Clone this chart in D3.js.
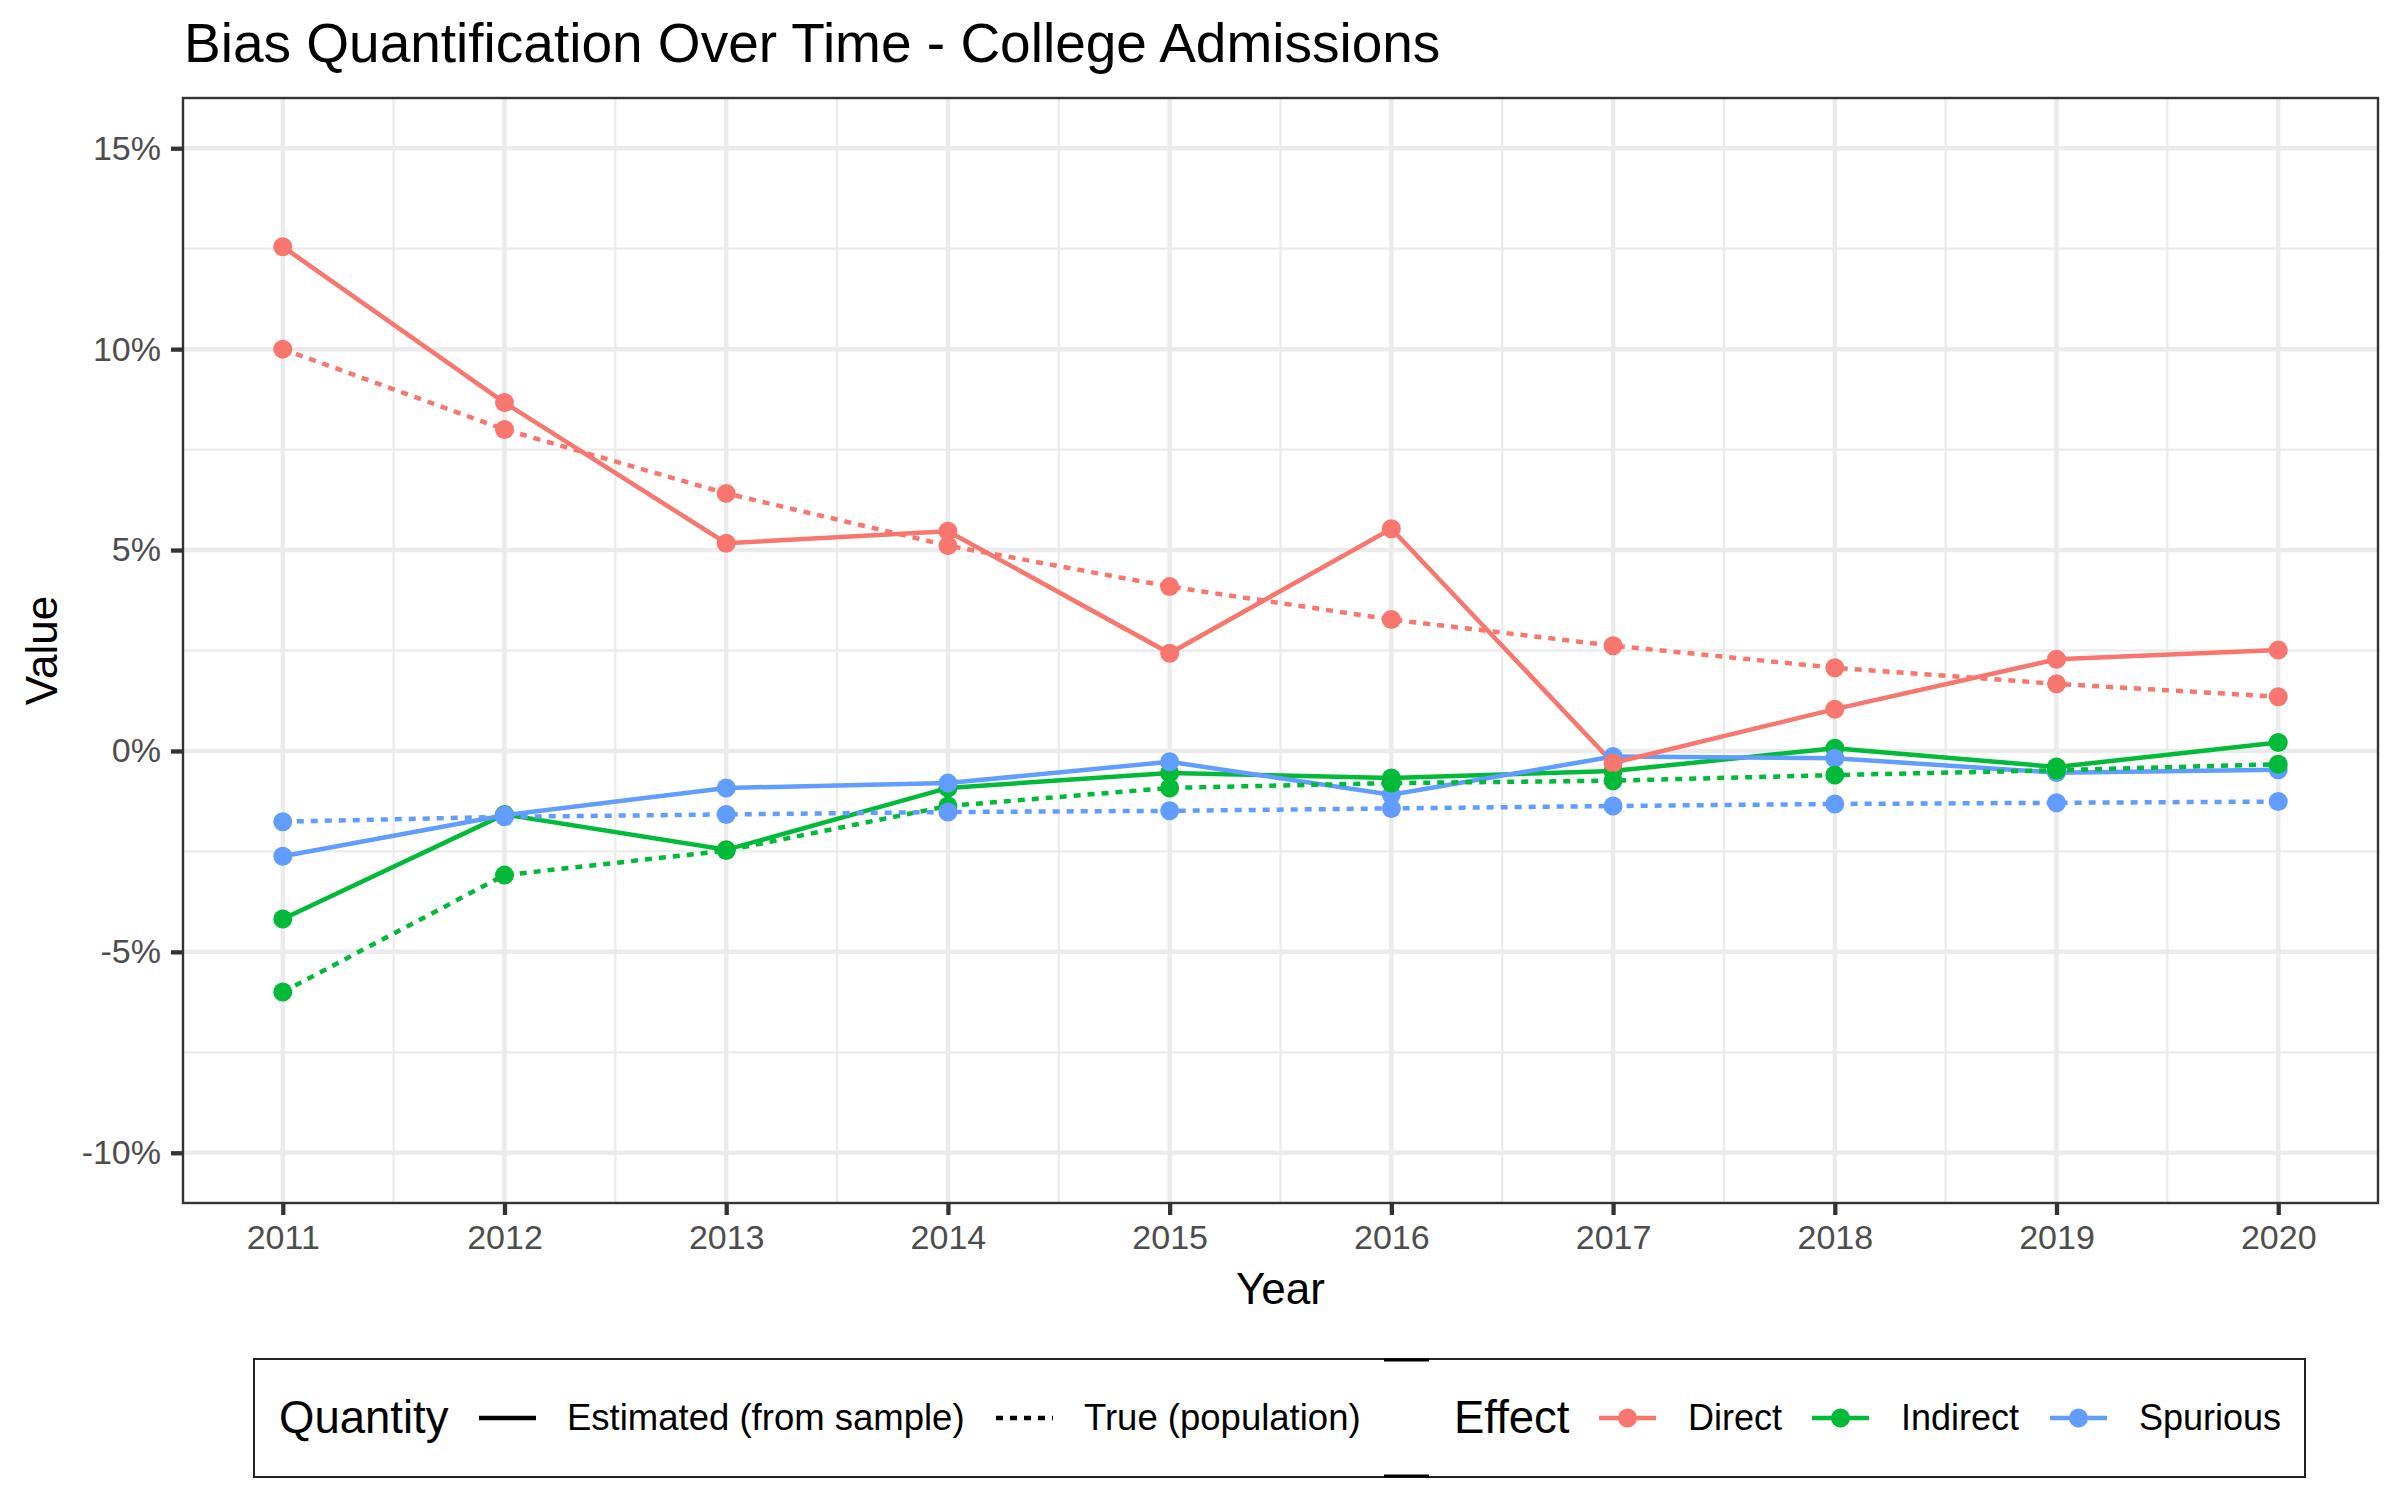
<!DOCTYPE html>
<html>
<head>
<meta charset="utf-8">
<script src="https://cdn.jsdelivr.net/npm/d3@7"></script>
<style>
  body { margin: 0; background: #fff; }
  text { font-family: "Liberation Sans", Arial, Helvetica, sans-serif; }
</style>
</head>
<body>
<div class="chart"></div>
<script>
// data (values in %)
var years = [2011, 2012, 2013, 2014, 2015, 2016, 2017, 2018, 2019, 2020];
var directEst = [12.55, 8.67, 5.17, 5.47, 2.43, 5.53, -0.30, 1.04, 2.28, 2.51];
var directTrue = [10.0, 8.0, 6.41, 5.11, 4.09, 3.27, 2.62, 2.07, 1.67, 1.35];
var indirectEst = [-4.18, -1.58, -2.46, -0.92, -0.55, -0.67, -0.50, 0.07, -0.40, 0.21];
var indirectTrue = [-6.0, -3.09, -2.48, -1.37, -0.92, -0.80, -0.74, -0.60, -0.48, -0.33];
var spuriousEst = [-2.62, -1.60, -0.92, -0.80, -0.27, -1.09, -0.14, -0.18, -0.54, -0.47];
var spuriousTrue = [-1.76, -1.64, -1.58, -1.52, -1.49, -1.43, -1.37, -1.32, -1.29, -1.26];
var yTicks = [-10, -5, 0, 5, 10, 15];
var yTickLabels = ["-10%", "-5%", "0%", "5%", "10%", "15%"];
var effects = ["Direct", "Indirect", "Spurious"];
var quantities = ["Estimated (from sample)", "True (population)"];

var svgWidth = 2400;
var svgHeight = 1500;
var margin = { top: 98, right: 22, bottom: 297, left: 183 };
var width = svgWidth - margin.left - margin.right;
var height = svgHeight - margin.top - margin.bottom;

var colors = { Direct: "#F8766D", Indirect: "#00BA38", Spurious: "#619CFF" };
var dash = { "Estimated (from sample)": null, "True (population)": "7,7" };

var svg = d3.select(".chart")
  .append("svg")
  .attr("width", svgWidth)
  .attr("height", svgHeight);

var chartGroup = svg.append("g")
  .attr("transform", `translate(${margin.left}, ${margin.top})`);

// scales: ggplot-style 5% expansion
var xScale = d3.scaleLinear()
  .domain([2011 - 0.45, 2020 + 0.45])
  .range([0, width]);
var yScale = d3.scaleLinear()
  .domain([-11.25, 16.25])
  .range([height, 0]);

// minor grid
var xMinor = years.slice(0, -1).map(d => d + 0.5);
var yMinor = yTicks.slice(0, -1).map(d => d + 2.5);
chartGroup.selectAll(".xminor").data(xMinor).enter().append("line")
  .attr("x1", d => xScale(d)).attr("x2", d => xScale(d))
  .attr("y1", 0).attr("y2", height)
  .attr("stroke", "#EBEBEB").attr("stroke-width", 2.3);
chartGroup.selectAll(".yminor").data(yMinor).enter().append("line")
  .attr("y1", d => yScale(d)).attr("y2", d => yScale(d))
  .attr("x1", 0).attr("x2", width)
  .attr("stroke", "#EBEBEB").attr("stroke-width", 2.3);
// major grid
chartGroup.selectAll(".xmajor").data(years).enter().append("line")
  .attr("x1", d => xScale(d)).attr("x2", d => xScale(d))
  .attr("y1", 0).attr("y2", height)
  .attr("stroke", "#EBEBEB").attr("stroke-width", 4.5);
chartGroup.selectAll(".ymajor").data(yTicks).enter().append("line")
  .attr("y1", d => yScale(d)).attr("y2", d => yScale(d))
  .attr("x1", 0).attr("x2", width)
  .attr("stroke", "#EBEBEB").attr("stroke-width", 4.5);

// series
var series = [
  { effect: "Indirect", quantity: quantities[0], values: indirectEst },
  { effect: "Spurious", quantity: quantities[0], values: spuriousEst },
  { effect: "Direct", quantity: quantities[0], values: directEst },
  { effect: "Indirect", quantity: quantities[1], values: indirectTrue },
  { effect: "Spurious", quantity: quantities[1], values: spuriousTrue },
  { effect: "Direct", quantity: quantities[1], values: directTrue }
];

var line = d3.line()
  .x((d, i) => xScale(years[i]))
  .y(d => yScale(d));

series.forEach(function(s) {
  chartGroup.append("path")
    .datum(s.values)
    .attr("d", line)
    .attr("fill", "none")
    .attr("stroke", colors[s.effect])
    .attr("stroke-width", 4.5)
    .attr("stroke-dasharray", dash[s.quantity]);
});
series.forEach(function(s) {
  chartGroup.selectAll(null)
    .data(s.values)
    .enter()
    .append("circle")
    .attr("cx", (d, i) => xScale(years[i]))
    .attr("cy", d => yScale(d))
    .attr("r", 9.5)
    .attr("fill", colors[s.effect]);
});

// panel border
chartGroup.append("rect")
  .attr("width", width).attr("height", height)
  .attr("fill", "none").attr("stroke", "#333333").attr("stroke-width", 2.4);

// axes
var bottomAxis = d3.axisBottom(xScale).tickValues(years).tickFormat(d3.format("d"))
  .tickSize(12).tickPadding(10);
var leftAxis = d3.axisLeft(yScale).tickValues(yTicks)
  .tickFormat((d, i) => yTickLabels[i]).tickSize(12).tickPadding(10);

var xAxisG = chartGroup.append("g")
  .attr("transform", `translate(0, ${height})`)
  .call(bottomAxis);
var yAxisG = chartGroup.append("g")
  .call(leftAxis);
[xAxisG, yAxisG].forEach(function(g) {
  g.select(".domain").remove();
  g.selectAll(".tick line").attr("stroke", "#333333").attr("stroke-width", 4.3);
  g.selectAll(".tick text")
    .attr("fill", "#4D4D4D")
    .attr("font-size", 34)
    .attr("font-family", "'Liberation Sans', Arial, Helvetica, sans-serif");
});

// title and axis labels
svg.append("text")
  .attr("x", 184).attr("y", 62)
  .attr("font-size", 55)
  .attr("fill", "#000")
  .text("Bias Quantification Over Time - College Admissions");

svg.append("text")
  .attr("x", margin.left + width / 2).attr("y", 1304)
  .attr("text-anchor", "middle")
  .attr("font-size", 44)
  .text("Year");

svg.append("text")
  .attr("transform", `translate(57, ${margin.top + height / 2}) rotate(-90)`)
  .attr("text-anchor", "middle")
  .attr("font-size", 44)
  .text("Value");

// legend
var legend = svg.append("g");
var legendY = 1418;
legend.append("rect")
  .attr("x", 254).attr("y", 1359)
  .attr("width", 2305 - 254).attr("height", 1477 - 1359)
  .attr("fill", "none").attr("stroke", "#222").attr("stroke-width", 2);
legend.append("line")
  .attr("x1", 1384).attr("x2", 1429).attr("y1", 1360).attr("y2", 1360)
  .attr("stroke", "#000").attr("stroke-width", 3);
legend.append("line")
  .attr("x1", 1384).attr("x2", 1429).attr("y1", 1476).attr("y2", 1476)
  .attr("stroke", "#000").attr("stroke-width", 3);

legend.append("text")
  .attr("x", 279).attr("y", legendY + 15)
  .attr("font-size", 45.5)
  .text("Quantity");
legend.append("text")
  .attr("x", 1454).attr("y", legendY + 15)
  .attr("font-size", 45.5)
  .text("Effect");

var quantityKeys = [{ x: 479, tx: 567 }, { x: 996, tx: 1084 }];
quantities.forEach(function(q, i) {
  legend.append("line")
    .attr("x1", quantityKeys[i].x).attr("x2", quantityKeys[i].x + 57)
    .attr("y1", legendY).attr("y2", legendY)
    .attr("stroke", "#000").attr("stroke-width", 4.5)
    .attr("stroke-dasharray", dash[q]);
  legend.append("text")
    .attr("x", quantityKeys[i].tx).attr("y", legendY + 12)
    .attr("font-size", 36.5)
    .text(q);
});

var effectKeys = [{ x: 1599, tx: 1688 }, { x: 1812, tx: 1901 }, { x: 2050, tx: 2139 }];
effects.forEach(function(e, i) {
  legend.append("line")
    .attr("x1", effectKeys[i].x).attr("x2", effectKeys[i].x + 57)
    .attr("y1", legendY).attr("y2", legendY)
    .attr("stroke", colors[e]).attr("stroke-width", 4.5);
  legend.append("circle")
    .attr("cx", effectKeys[i].x + 28.5).attr("cy", legendY)
    .attr("r", 9.5)
    .attr("fill", colors[e]);
  legend.append("text")
    .attr("x", effectKeys[i].tx).attr("y", legendY + 12)
    .attr("font-size", 36)
    .text(e);
});
</script>
</body>
</html>
